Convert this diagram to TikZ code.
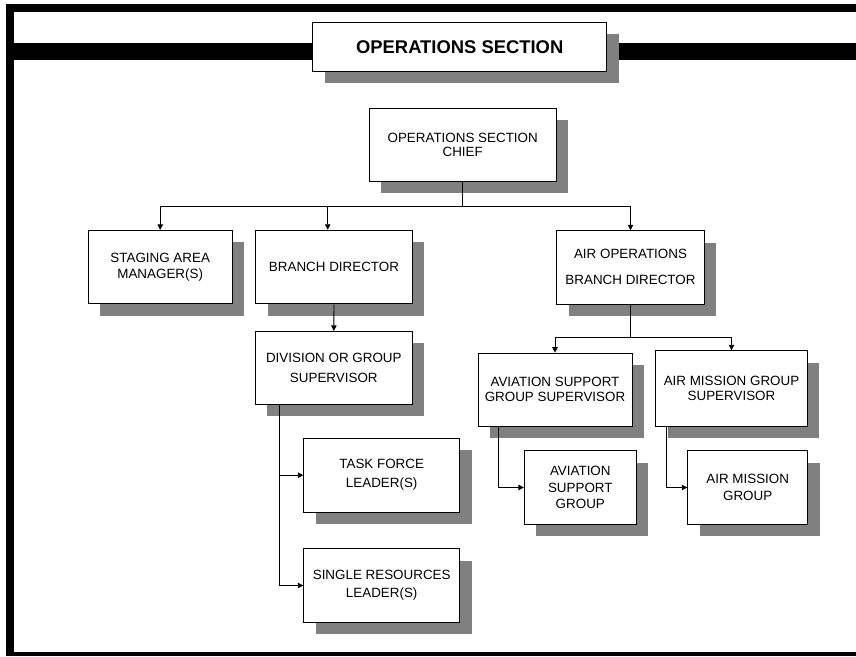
\documentclass[tikz,border=0pt]{standalone}
\usepackage{fontspec}
\setmainfont{Liberation Sans}
\usetikzlibrary{arrows.meta,shadows}
\definecolor{shadowgray}{HTML}{808080}
\begin{document}
\begin{tikzpicture}[x=1pt,y=-1pt,
  box/.style={draw=black,line width=0.8pt,fill=white,align=center,inner sep=0pt,
     font=\fontsize{13.4}{16}\selectfont,
     drop shadow={shadow xshift=12pt,shadow yshift=-12pt,fill=shadowgray,opacity=1}},
  conn/.style={line width=0.9pt},
  arr/.style={conn,-{Triangle[length=5.5pt,width=5.5pt]}}]
\useasboundingbox (0,0) rectangle (856,656);
% frame
\fill[black] (6,4) rectangle (856,12);
\fill[black] (6,4) rectangle (14,656);
\fill[black] (6,652) rectangle (856,656);
\fill[black] (14,43) rectangle (856,60);
% boxes
\node[box,minimum width=294pt,minimum height=48.7pt,font=\fontsize{18.4}{22}\selectfont\bfseries] (title) at (459.7,46.7) {OPERATIONS SECTION};
\node[box,minimum width=186.7pt,minimum height=73pt,font=\fontsize{13.4}{14}\selectfont] (osc) at (462.7,144.5) {OPERATIONS SECTION\\CHIEF};
\node[box,minimum width=144.3pt,minimum height=73.4pt] (staging) at (160.2,267) {STAGING AREA\\MANAGER(S)};
\node[box,minimum width=156.6pt,minimum height=73.7pt] (branch) at (334,267) {BRANCH DIRECTOR};
\node[box,minimum width=147.6pt,minimum height=73.3pt] (airops) at (630.5,267.3) {AIR OPERATIONS\\[10pt]BRANCH DIRECTOR};
\node[box,minimum width=157pt,minimum height=72.7pt] (dgs) at (333.8,367.7) {DIVISION OR GROUP\\[4pt]SUPERVISOR};
\node[box,minimum width=154pt,minimum height=73.3pt,font=\fontsize{13.4}{15}\selectfont] (asgs) at (555,389.7) {AVIATION SUPPORT\\GROUP SUPERVISOR};
\node[box,minimum width=151.6pt,minimum height=75.6pt,font=\fontsize{13.4}{15}\selectfont] (amgs) at (731.5,388.5) {AIR MISSION GROUP\\SUPERVISOR};
\node[box,minimum width=156pt,minimum height=73.7pt] (tf) at (381.7,475.2) {TASK FORCE\\[3pt]LEADER(S)};
\node[box,minimum width=156pt,minimum height=73.6pt] (sr) at (381.7,585.5) {SINGLE RESOURCES\\[2pt]LEADER(S)};
\node[box,minimum width=112pt,minimum height=73.6pt,font=\fontsize{13.4}{16.7}\selectfont] (asg) at (580.3,487.5) {AVIATION\\SUPPORT\\GROUP};
\node[box,minimum width=120pt,minimum height=73.6pt,font=\fontsize{13.4}{17.3}\selectfont] (amg) at (747.7,487.5) {AIR MISSION\\GROUP};
% connectors
\coordinate (j1) at (462.7,206);
\draw[conn] (osc.south) -- (j1);
\draw[arr] (j1) -| (staging.north);
\draw[arr] (j1) -| ([xshift=-6.3pt]branch.north);
\draw[arr] (j1) -| (airops.north);
\draw[arr] (branch.south) -- (dgs.north);
\draw[arr] ([xshift=-54.1pt]dgs.south) |- (tf.west);
\draw[arr] ([xshift=-54.1pt]dgs.south) |- (sr.west);
\coordinate (j2) at (630.5,337);
\draw[conn] (airops.south) -- (j2);
\draw[arr] (j2) -| (asgs.north);
\draw[arr] (j2) -| (amgs.north);
\draw[arr] ([xshift=21pt]asgs.south west) |- (asg.west);
\draw[arr] ([xshift=11pt]amgs.south west) |- (amg.west);
\end{tikzpicture}
\end{document}
